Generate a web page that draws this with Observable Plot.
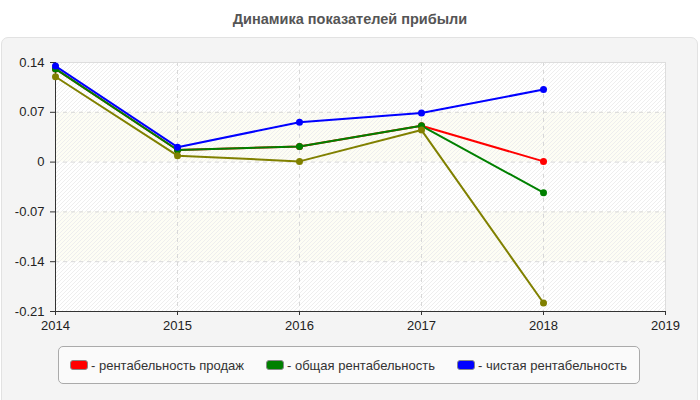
<!DOCTYPE html>
<html>
<head>
<meta charset="utf-8">
<script src="https://cdn.jsdelivr.net/npm/d3@7"></script>
<script src="https://cdn.jsdelivr.net/npm/@observablehq/plot@0.6"></script>
<style>
  html, body { margin: 0; padding: 0; background: #fff; }
  body { font-family: "Liberation Sans", Arial, sans-serif; }
  #wrap { position: relative; width: 700px; height: 400px; overflow: hidden; }
  #title { position: absolute; left: 0; top: 11px; width: 700px; text-align: center;
           font-size: 14.5px; font-weight: bold; color: #555; }
  #panel { position: absolute; left: 1px; top: 37px; width: 695px; height: 370px;
           background: #f4f4f4; border: 1px solid #e2e2e2; border-radius: 7px; }
  #chart { position: absolute; left: 0; top: 37px; }
  #legend { position: absolute; left: 58px; top: 346px; width: 580px; height: 36px;
            background: #fafafa; border: 1px solid #aaa; border-radius: 5px;
            font-size: 13px; color: #333; }
  .item { display: flex; align-items: center; position: absolute; top: 0; height: 36px; }
  .sw { width: 16px; height: 8px; border: 1px solid #888; border-radius: 3px; margin-right: 3px; }
</style>
</head>
<body>
<div id="wrap">
  <div id="title">Динамика показателей прибыли</div>
  <div id="panel"></div>
  <div id="chart"></div>
  <div id="legend"></div>
</div>
<script>
// Years on the horizontal axis
const years = [2014, 2015, 2016, 2017, 2018];

// Profitability ratios per year
const salesMargin = [0.131, 0.017, 0.022, 0.051, 0.001];
const totalMargin = [0.131, 0.017, 0.022, 0.051, -0.043];
const netMargin   = [0.135, 0.021, 0.056, 0.069, 0.102];
const extraMargin = [0.120, 0.009, 0.001, 0.045, -0.198];

// Series names and colours (the last series has no legend entry)
const seriesNames  = ["рентабельность продаж", "общая рентабельность", "чистая рентабельность", null];
const seriesColors = ["#ff0000", "#008000", "#0000ff", "#808000"];

// Drawing order: red, green, olive, blue (blue on top)
const layers = [
  {values: salesMargin, color: seriesColors[0]},
  {values: totalMargin, color: seriesColors[1]},
  {values: extraMargin, color: seriesColors[3]},
  {values: netMargin,   color: seriesColors[2]}
];

// Axis ticks
const xTicks = [2014, 2015, 2016, 2017, 2018, 2019];
const yTicks = [-0.21, -0.14, -0.07, 0, 0.07, 0.14];

const xDomain = [xTicks[0], xTicks[xTicks.length - 1]];
const yDomain = [yTicks[0], yTicks[yTicks.length - 1]];

// Alternating horizontal bands between gridlines
const bands = [];
for (let i = 1; i + 1 < yTicks.length; i += 2) bands.push({y1: yTicks[i], y2: yTicks[i + 1]});

const area = [{x1: xDomain[0], x2: xDomain[1], y1: yDomain[0], y2: yDomain[1]}];

const marks = [
  Plot.rect(area, {x1: "x1", x2: "x2", y1: "y1", y2: "y2", fill: "#fff"}),
  Plot.rect(bands, {x1: xDomain[0], x2: xDomain[1], y1: "y1", y2: "y2", fill: "#fdfdf4"}),
  Plot.rect(area, {
    x1: "x1", x2: "x2", y1: "y1", y2: "y2", fill: "none",
    // fill the plotting area with a fine diagonal hatch
    render(index, scales, values, dimensions, context, next) {
      const g = next(index, scales, values, dimensions, context);
      const defs = d3.create("svg:defs");
      const pat = defs.append("pattern")
        .attr("id", "plot-hatch")
        .attr("patternUnits", "userSpaceOnUse")
        .attr("width", 4)
        .attr("height", 4);
      pat.append("path")
        .attr("d", "M-1,1 L1,-1 M0,4 L4,0 M3,5 L5,3")
        .attr("stroke", "#eeeeee")
        .attr("stroke-width", 1)
        .attr("fill", "none");
      g.insertBefore(defs.node(), g.firstChild);
      d3.select(g).attr("fill", "url(#plot-hatch)");
      d3.select(g).selectAll("rect").attr("fill", "url(#plot-hatch)");
      return g;
    }
  }),
  Plot.gridX(xTicks.slice(1, -1), {stroke: "#d8d8d8", strokeOpacity: 1, strokeDasharray: "4,4"}),
  Plot.gridY(yTicks.slice(1, -1), {stroke: "#d8d8d8", strokeOpacity: 1, strokeDasharray: "4,4"}),
  Plot.ruleY([yDomain[1]], {stroke: "#ddd"}),
  Plot.ruleX([xDomain[1]], {stroke: "#ddd"}),
  Plot.ruleX([xDomain[0]], {stroke: "#333"}),
  Plot.ruleY([yDomain[0]], {stroke: "#333"}),
  Plot.axisX(xTicks, {tickSize: 4, tickPadding: 5, tickFormat: d => String(d), stroke: "#333", fill: "#222"}),
  Plot.axisY(yTicks, {tickSize: 5, tickPadding: 6, tickFormat: d => String(d), stroke: "#333", fill: "#222"})
];

layers.forEach(({values, color}) => {
  const data = years.map((yr, i) => ({year: yr, value: values[i]}));
  marks.push(Plot.line(data, {x: "year", y: "value", stroke: color, strokeWidth: 2}));
  marks.push(Plot.dot(data, {x: "year", y: "value", fill: color, r: 3.5}));
});

const chart = Plot.plot({
  width: 700,
  height: 300,
  marginLeft: 55,
  marginRight: 35,
  marginTop: 25,
  marginBottom: 26,
  style: {background: "transparent", fontFamily: "'Liberation Sans', Arial, sans-serif", fontSize: "13px", overflow: "visible"},
  x: {domain: xDomain},
  y: {domain: yDomain},
  marks
});

document.getElementById("chart").appendChild(chart);

// Legend
const legend = document.getElementById("legend");
const legendX = [11, 207, 398];
seriesNames.forEach((name, i) => {
  if (!name) return;
  const item = document.createElement("div");
  item.className = "item";
  item.style.left = legendX[i] + "px";
  const sw = document.createElement("div");
  sw.className = "sw";
  sw.style.background = seriesColors[i];
  const label = document.createElement("span");
  label.textContent = "- " + name;
  item.appendChild(sw);
  item.appendChild(label);
  legend.appendChild(item);
});
</script>
</body>
</html>
